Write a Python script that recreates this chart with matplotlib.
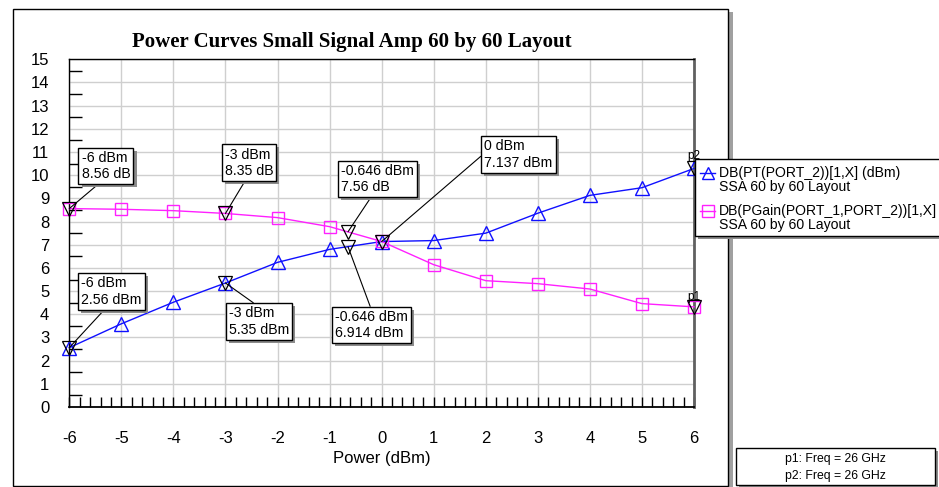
import matplotlib
matplotlib.use('Agg')
import matplotlib.pyplot as plt
import matplotlib.patheffects as pe
from matplotlib.patches import Rectangle
from matplotlib.lines import Line2D
from matplotlib.ticker import MultipleLocator

plt.rcParams['font.family'] = ['Liberation Sans', 'DejaVu Sans']
plt.rcParams['axes.unicode_minus'] = False

# swept input power and the two traces
power = [-6, -5, -4, -3, -2, -1, 0, 1, 2, 3, 4, 5, 6]
pt_dbm = [2.56, 3.59, 4.52, 5.35, 6.24, 6.80, 7.137, 7.18, 7.50, 8.36, 9.13, 9.46, 10.29]
gain_db = [8.56, 8.53, 8.47, 8.35, 8.17, 7.78, 7.14, 6.14, 5.45, 5.32, 5.09, 4.46, 4.32]

# readout markers
mk_x = [-6, -3, -0.646, 0, -6, -3, -0.646]
mk_y = [8.56, 8.35, 7.56, 7.137, 2.56, 5.35, 6.914]
mk_text = ['-6 dBm\n8.56 dB', '-3 dBm\n8.35 dB', '-0.646 dBm\n7.56 dB', '0 dBm\n7.137 dBm',
           '-6 dBm\n2.56 dBm', '-3 dBm\n5.35 dBm', '-0.646 dBm\n6.914 dBm']

legend_labels = [('DB(PT(PORT_2))[1,X] (dBm)', 'SSA 60 by 60 Layout'),
                 ('DB(PGain(PORT_1,PORT_2))[1,X]', 'SSA 60 by 60 Layout')]
freq_notes = ['p1: Freq = 26 GHz', 'p2: Freq = 26 GHz']

W, H = 939, 487
def fx(px):
    return px / W
def fy(py):
    return 1 - py / H

BLUE = '#1010ff'
PINK = '#ff20ff'

fig = plt.figure(figsize=(W / 100, H / 100), dpi=100)
ax = fig.add_axes([fx(69.3), fy(407), (694 - 69.3) / W, (407 - 59.3) / H])

# outer frame with shadow strip
fig.add_artist(Rectangle((fx(728.5), fy(487)), 4 / W, (487 - 12) / H, transform=fig.transFigure,
                         fc='#a0a0a0', ec='none', zorder=-2))
fig.add_artist(Rectangle((fx(12.7), fy(486)), (728 - 12.7) / W, (486 - 9.3) / H,
                         transform=fig.transFigure, fc='none', ec='black', lw=1, zorder=-1))

ax.plot(power, pt_dbm, color=BLUE, lw=1, marker='^', ms=9.5, mfc='none', mec=BLUE, mew=1,
        clip_on=False, zorder=3)
ax.plot(power, gain_db, color=PINK, lw=1, marker='s', ms=9, mfc='none', mec=PINK, mew=1,
        clip_on=False, zorder=3)

# marker triangles (readouts + p1/p2)
ax.plot(mk_x, mk_y, ls='none', marker='v', ms=9.5, mfc='none', mec='black', mew=0.9,
        clip_on=False, zorder=4)
ax.plot([power[-1], power[-1]], [gain_db[-1], pt_dbm[-1]], ls='none', marker='v', ms=9.5,
        mfc='none', mec='black', mew=0.9, clip_on=False, zorder=4)
ax.annotate('p1', xy=(power[-1], gain_db[-1]), xytext=(0, 7), textcoords='offset points',
            ha='center', va='center', fontsize=8.5, annotation_clip=False)
ax.annotate('p2', xy=(power[-1], pt_dbm[-1]), xytext=(0, 9), textcoords='offset points',
            ha='center', va='center', fontsize=8.5, annotation_clip=False)

# box offsets (points) and where the leader line leaves the box
offsets = [(26.4, 30.8), (16.9, 36.6), (21.2, 38.0), (98.5, 62.7),
           (30.4, 40.5), (24.1, -27.7), (16.9, -56.4)]
anchors = [(0.42, 0), (0.46, 0), (0.44, 0), (0, 0.54), (0.43, 0), (0.49, 1), (0.5, 1)]
for x, y, s, off, rp in zip(mk_x, mk_y, mk_text, offsets, anchors):
    a = ax.annotate(s, xy=(x, y), xytext=off, textcoords='offset points', ha='center',
                    va='center', multialignment='left', fontsize=10.2, zorder=6,
                    bbox=dict(boxstyle='square,pad=0.22', fc='white', ec='black', lw=1),
                    arrowprops=dict(arrowstyle='-', color='black', lw=0.8, shrinkA=0,
                                    shrinkB=0, relpos=rp),
                    annotation_clip=False)
    a.get_bbox_patch().set_path_effects([
        pe.SimplePatchShadow(offset=(2.2, -2.2), shadow_rgbFace='#8c8c8c', alpha=1.0),
        pe.Normal()])

ax.set_xlim(-6, 6)
ax.set_ylim(0, 15)
ax.xaxis.set_major_locator(MultipleLocator(1))
ax.xaxis.set_minor_locator(MultipleLocator(0.2))
ax.yaxis.set_major_locator(MultipleLocator(1))
ax.yaxis.set_minor_locator(MultipleLocator(0.5))
ax.grid(True, which='major', color='#cfcfcf', lw=1)
ax.set_axisbelow(True)
ax.tick_params(axis='x', which='both', direction='in', length=7, width=1, pad=17,
               labelsize=12)
ax.tick_params(axis='y', which='major', length=0, pad=14.5, labelsize=12)
ax.tick_params(axis='y', which='minor', direction='in', length=9, width=1)
for side in ['top', 'left', 'bottom']:
    ax.spines[side].set_color('black')
    ax.spines[side].set_linewidth(1)
ax.spines['bottom'].set_linewidth(1.3)
ax.spines['right'].set_color('#606060')
ax.spines['right'].set_linewidth(2)
ax.set_xlabel('Power (dBm)', fontsize=12, labelpad=4)

fig.text(fx(352), fy(47), 'Power Curves Small Signal Amp 60 by 60 Layout', ha='center',
         va='baseline', family='Liberation Serif', weight='bold', fontsize=15)

# legend block
fig.add_artist(Rectangle((fx(698), fy(239)), (950 - 695) / W, (236 - 158.5) / H,
                         transform=fig.transFigure, fc='#8c8c8c', ec='none', zorder=5))
fig.add_artist(Rectangle((fx(695), fy(236)), (950 - 695) / W, (236 - 158.5) / H,
                         transform=fig.transFigure, fc='white', ec='black', lw=1, zorder=5))
for (l1, l2), col, mk, ty in zip(legend_labels, [BLUE, PINK], ['^', 's'], [173, 211]):
    fig.add_artist(Line2D([fx(700), fx(715)], [fy(ty), fy(ty)], transform=fig.transFigure,
                          color=col, lw=1, zorder=6))
    fig.add_artist(Line2D([fx(707.5)], [fy(ty)], transform=fig.transFigure, ls='none',
                          marker=mk, ms=8.5, mfc='none', mec=col, mew=1, zorder=6))
    fig.text(fx(719), fy(ty), l1, ha='left', va='center', fontsize=10.1, zorder=6)
    fig.text(fx(719), fy(ty + 14), l2, ha='left', va='center', fontsize=10.1, zorder=6)

# marker frequency box
fig.add_artist(Rectangle((fx(738.7), fy(487.5)), (935 - 735.7) / W, (484.5 - 448) / H,
                         transform=fig.transFigure, fc='#8c8c8c', ec='none', zorder=5))
fig.add_artist(Rectangle((fx(735.7), fy(484.5)), (935 - 735.7) / W, (484.5 - 448) / H,
                         transform=fig.transFigure, fc='white', ec='black', lw=1, zorder=5))
for s, ty in zip(freq_notes, [459, 476]):
    fig.text(fx(835), fy(ty), s, ha='center', va='center', fontsize=8.8, zorder=6)

fig.savefig('out.png', dpi=100, facecolor='white')
